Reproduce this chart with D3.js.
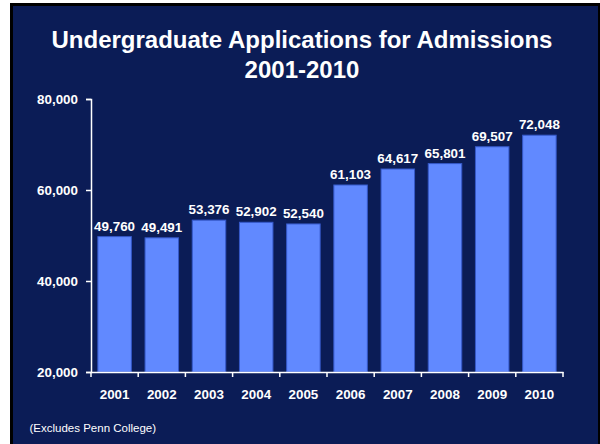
<!DOCTYPE html>
<html><head><meta charset="utf-8">
<script src="https://cdn.jsdelivr.net/npm/d3@7"></script>
<style>html,body{margin:0;padding:0;background:#fff;}svg{display:block;}</style>
</head><body>
<script>
const years = ["2001","2002","2003","2004","2005","2006","2007","2008","2009","2010"];
const applications = [49760,49491,53376,52902,52540,61103,64617,65801,69507,72048];
const yTicks = [20000,40000,60000,80000];
const titleLines = ["Undergraduate Applications for Admissions","2001-2010"];
const footnote = "(Excludes Penn College)";

const W = 600, H = 444;
const svg = d3.select("body").append("svg").attr("width", W).attr("height", H);
svg.append("rect").attr("x",10).attr("y",3).attr("width",W-10).attr("height",H-3).attr("fill","#000");
svg.append("rect").attr("x",13).attr("y",6).attr("width",W-15).attr("height",H-6).attr("fill","#0B1C56");

const x = d3.scaleBand().domain(years).range([91,563]).paddingInner(0.29).paddingOuter(0.145);
const y = d3.scaleLinear().domain([20000,80000]).range([372,99]);

const font = "Liberation Sans, Arial, sans-serif";

svg.selectAll("text.title").data(titleLines).join("text")
  .attr("x",302).attr("y",(d,i)=>48+i*30).attr("text-anchor","middle")
  .attr("fill","#fff").attr("font-family",font).attr("font-weight","bold").attr("font-size",24)
  .text(d=>d);

svg.selectAll("rect.bar").data(applications).join("rect")
  .attr("x",(d,i)=>x(years[i])).attr("width",x.bandwidth())
  .attr("y",d=>y(d)).attr("height",d=>y(20000)-y(d))
  .attr("fill","#6189FF").attr("stroke","#3558C8").attr("stroke-width",1);

svg.selectAll("text.val").data(applications).join("text")
  .attr("x",(d,i)=>x(years[i])+x.bandwidth()/2).attr("y",d=>y(d)-6)
  .attr("text-anchor","middle").attr("fill","#fff").attr("font-family",font)
  .attr("font-weight","bold").attr("font-size",13.4)
  .text(d=>d3.format(",")(d));

const yAxis = svg.append("g").attr("transform","translate(91,0)")
  .call(d3.axisLeft(y).tickValues(yTicks).tickFormat(d3.format(",")).tickSize(5).tickPadding(8));
yAxis.selectAll("path,line").attr("stroke","#fff").attr("stroke-width",1.5);
yAxis.selectAll("text").attr("fill","#fff").attr("font-family",font).attr("font-weight","bold").attr("font-size",13.4);

const xAxis = svg.append("g").attr("transform","translate(0,372)")
  .call(d3.axisBottom(x).tickSize(0).tickPadding(17));
xAxis.select("path").attr("stroke","#fff").attr("stroke-width",1.5);
xAxis.selectAll("text").attr("fill","#fff").attr("font-family",font).attr("font-weight","bold").attr("font-size",13.4);
const step = x.step();
const bounds = d3.range(years.length+1).map(i => 91 + i*step);
xAxis.selectAll("line.bt").data(bounds).join("line").attr("class","bt")
  .attr("x1",d=>d).attr("x2",d=>d).attr("y1",0).attr("y2",5)
  .attr("stroke","#fff").attr("stroke-width",1.5);

svg.append("text").attr("x",29.5).attr("y",432).attr("fill","#fff")
  .attr("font-family",font).attr("font-size",11.5).text(footnote);
</script>
</body></html>
